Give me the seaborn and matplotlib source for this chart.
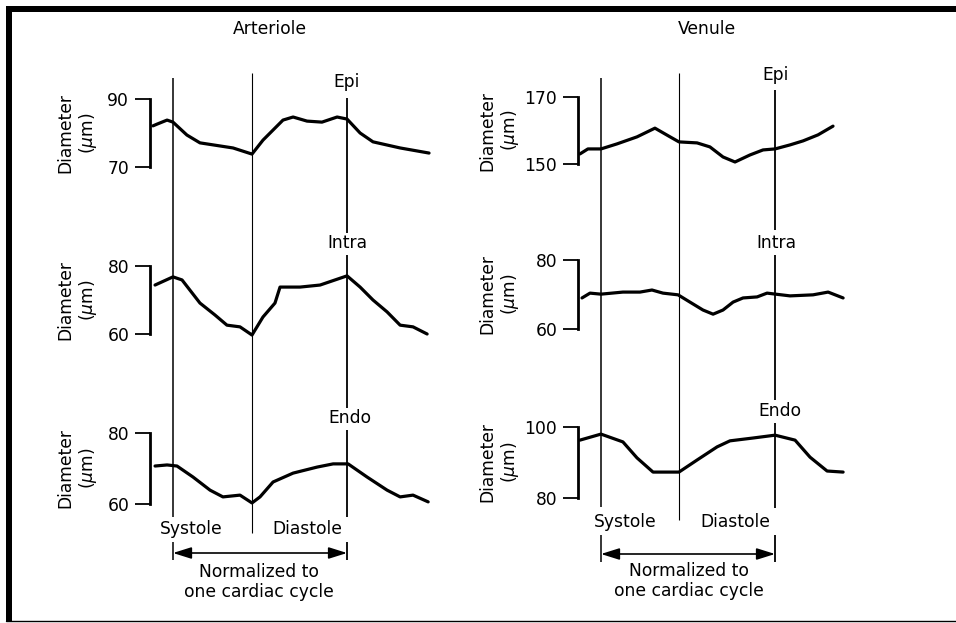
import matplotlib
matplotlib.use("Agg")
import matplotlib.pyplot as plt
import seaborn as sns
from matplotlib.patches import Rectangle
from matplotlib.lines import Line2D

# ---------------- data (time normalised to one cardiac cycle) ----------------
art_epi_t = [-0.115, -0.092, -0.034, 0.0, 0.080, 0.155, 0.345, 0.454, 0.517, 0.632,
             0.690, 0.770, 0.856, 0.943, 1.0, 1.075, 1.149, 1.305, 1.471]
art_epi_d = [82.1, 82.6, 83.8, 83.2, 79.4, 77.1, 75.6, 73.8, 77.9, 83.8,
             84.7, 83.5, 83.2, 84.7, 84.1, 80.0, 77.4, 75.6, 74.1]

art_intra_t = [-0.103, 0.0, 0.052, 0.155, 0.241, 0.310, 0.385, 0.454, 0.517, 0.586,
               0.615, 0.730, 0.845, 1.0, 1.075, 1.149, 1.230, 1.305, 1.379, 1.460]
art_intra_d = [74.4, 76.8, 75.9, 69.1, 65.6, 62.6, 62.1, 59.7, 65.0, 69.1,
               73.8, 73.8, 74.4, 77.1, 73.8, 70.0, 66.5, 62.6, 62.1, 60.0]

art_endo_t = [-0.103, -0.034, 0.023, 0.115, 0.213, 0.287, 0.385, 0.454, 0.500, 0.575,
              0.690, 0.828, 0.920, 1.006, 1.115, 1.230, 1.305, 1.379, 1.466]
art_endo_d = [70.7, 71.0, 70.7, 67.6, 63.9, 62.0, 62.5, 60.3, 62.0, 66.2,
              68.7, 70.4, 71.3, 71.3, 67.6, 63.9, 62.0, 62.5, 60.6]

ven_epi_t = [-0.121, -0.075, 0.0, 0.092, 0.207, 0.310, 0.397, 0.448, 0.552, 0.626,
             0.701, 0.770, 0.856, 0.931, 1.0, 1.086, 1.161, 1.247, 1.333]
ven_epi_d = [153.0, 154.5, 154.5, 156.0, 158.1, 160.7, 158.1, 156.6, 156.3, 155.1,
             152.1, 150.6, 152.7, 154.2, 154.5, 155.7, 156.9, 158.7, 161.3]

ven_intra_t = [-0.109, -0.063, 0.0, 0.126, 0.224, 0.293, 0.356, 0.443, 0.511, 0.586,
               0.644, 0.701, 0.759, 0.816, 0.897, 0.954, 1.086, 1.218, 1.305, 1.391]
ven_intra_d = [69.0, 70.4, 70.1, 70.7, 70.7, 71.3, 70.4, 69.9, 67.8, 65.5,
               64.3, 65.5, 67.8, 69.0, 69.3, 70.4, 69.6, 69.9, 70.7, 69.0]

ven_endo_t = [-0.121, 0.0, 0.126, 0.207, 0.299, 0.448, 0.552, 0.667, 0.741, 0.874,
              1.0, 1.115, 1.201, 1.299, 1.391]
ven_endo_d = [96.3, 98.0, 95.8, 91.3, 87.3, 87.3, 90.7, 94.4, 96.1, 96.9,
              97.7, 96.3, 91.5, 87.6, 87.3]

layer_names = ["Epi", "Intra", "Endo"]
art_ticks = [(70, 90), (60, 80), (60, 80)]
ven_ticks = [(150, 170), (60, 80), (80, 100)]
column_titles = ["Arteriole", "Venule"]
art_cycle = [0.0, 0.454, 1.0]   # systole start, diastole start, cycle end
ven_cycle = [0.0, 0.448, 1.0]

# ---------------- style ----------------
sns.set_theme(style="white", rc={"axes.edgecolor": "black", "ytick.color": "black",
                                 "text.color": "black", "ytick.left": True})
plt.rcParams["font.family"] = ["DejaVu Sans"]
FS = 12.3

W, H = 956, 623
fig = plt.figure(figsize=(W / 100, H / 100), dpi=100)
fig.patch.set_facecolor("white")


def rect(x0, y0, x1, y1):
    return [x0 / W, 1 - y1 / H, (x1 - x0) / W, (y1 - y0) / H]


XLIM = (-0.132, 1.534)

columns = [
    dict(title=column_titles[0], x0=150, x1=440, title_x=270, ylab_x=78,
         series=[(art_epi_t, art_epi_d), (art_intra_t, art_intra_d), (art_endo_t, art_endo_d)],
         ticks=art_ticks, ypix=[(99, 167), (266, 334), (433, 504)],
         cycle=art_cycle,
         seg0=[(78, 517), (542, 560)], seg1=[(73, 533)],
         seg2=[(98, 233), (255, 408), (430, 517), (542, 560)],
         lab_y=[82, 243, 418], lab_dx=[0, 0, 0.015],
         sys=(191, 529), dia=(307, 529), arrow_y=553, norm=(259, 582)),
    dict(title=column_titles[1], x0=578, x1=868, title_x=707, ylab_x=500,
         series=[(ven_epi_t, ven_epi_d), (ven_intra_t, ven_intra_d), (ven_endo_t, ven_endo_d)],
         ticks=ven_ticks, ypix=[(97, 164), (260, 329), (427, 498)],
         cycle=ven_cycle,
         seg0=[(78, 507), (535, 562)], seg1=[(73, 520)],
         seg2=[(90, 230), (255, 400), (423, 508), (535, 562)],
         lab_y=[75, 243, 411], lab_dx=[0.005, 0.01, 0.03],
         sys=(625, 522), dia=(735, 522), arrow_y=554, norm=(689, 581)),
]

for col in columns:
    # panels
    for (t, d), (lo, hi), (ytop, ybot) in zip(col["series"], col["ticks"], col["ypix"]):
        ax = fig.add_axes(rect(col["x0"], ytop, col["x1"], ybot))
        sns.lineplot(x=t, y=d, ax=ax, color="black", linewidth=2.3, clip_on=False)
        ax.set_xlim(*XLIM)
        ax.set_ylim(lo, hi)
        ax.set_yticks([lo, hi])
        ax.set_yticklabels([str(lo), str(hi)])
        ax.set_xticks([])
        ax.set_xlabel("")
        ax.set_ylabel("")
        for s in ["top", "right", "bottom"]:
            ax.spines[s].set_visible(False)
        ax.spines["left"].set_linewidth(2.0)
        ax.spines["left"].set_color("black")
        ax.tick_params(axis="y", left=True, length=11, width=1.3, direction="out",
                       pad=4, labelsize=FS, colors="black")
        ax.patch.set_alpha(0)
        fig.text(col["ylab_x"] / W, 1 - (ytop + ybot) / 2 / H, "Diameter\n($\\mu$m)",
                 rotation=90, ha="center", va="center", fontsize=FS,
                 multialignment="center", linespacing=1.15)

    # overlay for cycle markers
    ov = fig.add_axes(rect(col["x0"], 0, col["x1"], H))
    ov.set_xlim(*XLIM)
    ov.set_ylim(H, 0)
    ov.axis("off")
    ov.patch.set_alpha(0)
    c0, c1, c2 = col["cycle"]
    for y0, y1 in col["seg0"]:
        ov.vlines(c0, y0, y1, color="black", linewidth=1.1)
    for y0, y1 in col["seg1"]:
        ov.vlines(c1, y0, y1, color="black", linewidth=0.8)
    for y0, y1 in col["seg2"]:
        ov.vlines(c2, y0, y1, color="black", linewidth=1.3)
    for name, ly, dx in zip(layer_names, col["lab_y"], col["lab_dx"]):
        ov.text(c2 + dx, ly, name, ha="center", va="center", fontsize=FS)
    ov.annotate("", xy=(c2, col["arrow_y"]), xytext=(c0, col["arrow_y"]),
                arrowprops=dict(arrowstyle="<|-|>,head_length=0.7,head_width=0.22",
                                color="black", lw=1.2, shrinkA=0, shrinkB=0,
                                mutation_scale=16))

    fig.text(col["title_x"] / W, 1 - 29 / H, col["title"], ha="center", va="center",
             fontsize=FS)
    fig.text(col["sys"][0] / W, 1 - col["sys"][1] / H, "Systole", ha="center",
             va="center", fontsize=FS)
    fig.text(col["dia"][0] / W, 1 - col["dia"][1] / H, "Diastole", ha="center",
             va="center", fontsize=FS)
    fig.text(col["norm"][0] / W, 1 - col["norm"][1] / H,
             "Normalized to\none cardiac cycle", ha="center", va="center",
             fontsize=FS, linespacing=1.1)

# frame
fig.add_artist(Rectangle((6 / W, 1 - 621 / H), 6 / W, 615 / H, transform=fig.transFigure,
                         facecolor="black", edgecolor="none"))
fig.add_artist(Rectangle((6 / W, 1 - 12 / H), (W - 6) / W, 6 / H, transform=fig.transFigure,
                         facecolor="black", edgecolor="none"))
fig.add_artist(Line2D([6 / W, 1], [1 - 620.5 / H] * 2, transform=fig.transFigure,
                      color="black", linewidth=1.0))

fig.savefig("out.png", dpi=100)
